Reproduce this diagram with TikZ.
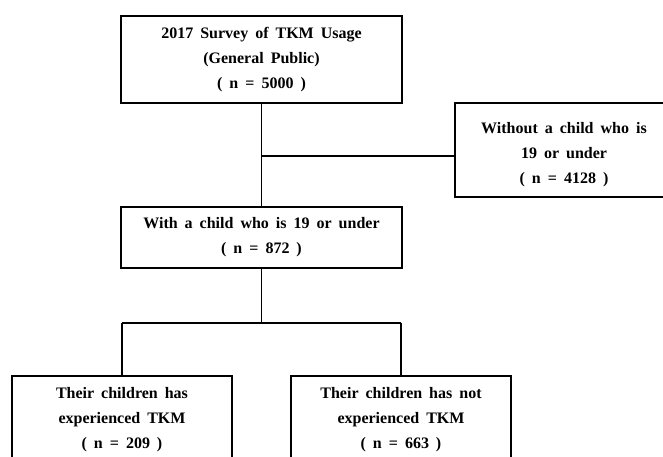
\documentclass[tikz,border=0pt]{standalone}
\usepackage{fontspec}
\setmainfont{Liberation Serif}
\begin{document}
\begin{tikzpicture}[x=1pt,y=-1pt,
  box/.style={draw, line width=1.7pt, inner sep=0pt},
  txt/.style={align=center, inner sep=0pt, font={\bfseries\fontsize{16}{25}\selectfont\spaceskip=7pt plus 1pt minus 1pt}},
  conn/.style={line width=1.7pt}]
\useasboundingbox (0,0) rectangle (663,457);
\clip (0,0) rectangle (663,457);
\node[box, minimum width=281pt, minimum height=87pt] (top) at (261.5,59.5) {};
\node[txt] (toptext) at (261.5,60) {2017 Survey of TKM Usage\\(General Public)\\( n = 5000 )};
\node[box, minimum width=218pt, minimum height=94pt] (r) at (564,150) {};
\node[txt] (rtext) at (564,155) {Without a child who is\\19 or under\\( n = 4128 )};
\node[box, minimum width=281pt, minimum height=61pt] (mid) at (261.5,237.5) {};
\node[txt] (midtext) at (261.5,237.5) {With a child who is 19 or under\\( n = 872 )};
\node[box, minimum width=220pt, minimum height=86pt] (bl) at (122,419) {};
\node[txt] (bltext) at (122,419.5) {Their children has\\experienced TKM\\( n = 209 )};
\node[box, minimum width=220pt, minimum height=86pt] (br) at (401,419) {};
\node[txt] (brtext) at (401,419.5) {Their children has not\\experienced TKM\\( n = 663 )};
\coordinate (j1) at (261.5,156);
\coordinate (j2) at (261.5,323);
\draw[conn] (top.south) -- (mid.north);
\draw[conn] (j1) -- (j1 -| r.west);
\draw[conn] (mid.south) -- (j2);
\draw[conn] (j2 -| bl.north) -- (j2 -| br.north);
\draw[conn] (j2 -| bl.north) -- (bl.north);
\draw[conn] (j2 -| br.north) -- (br.north);
\end{tikzpicture}
\end{document}
